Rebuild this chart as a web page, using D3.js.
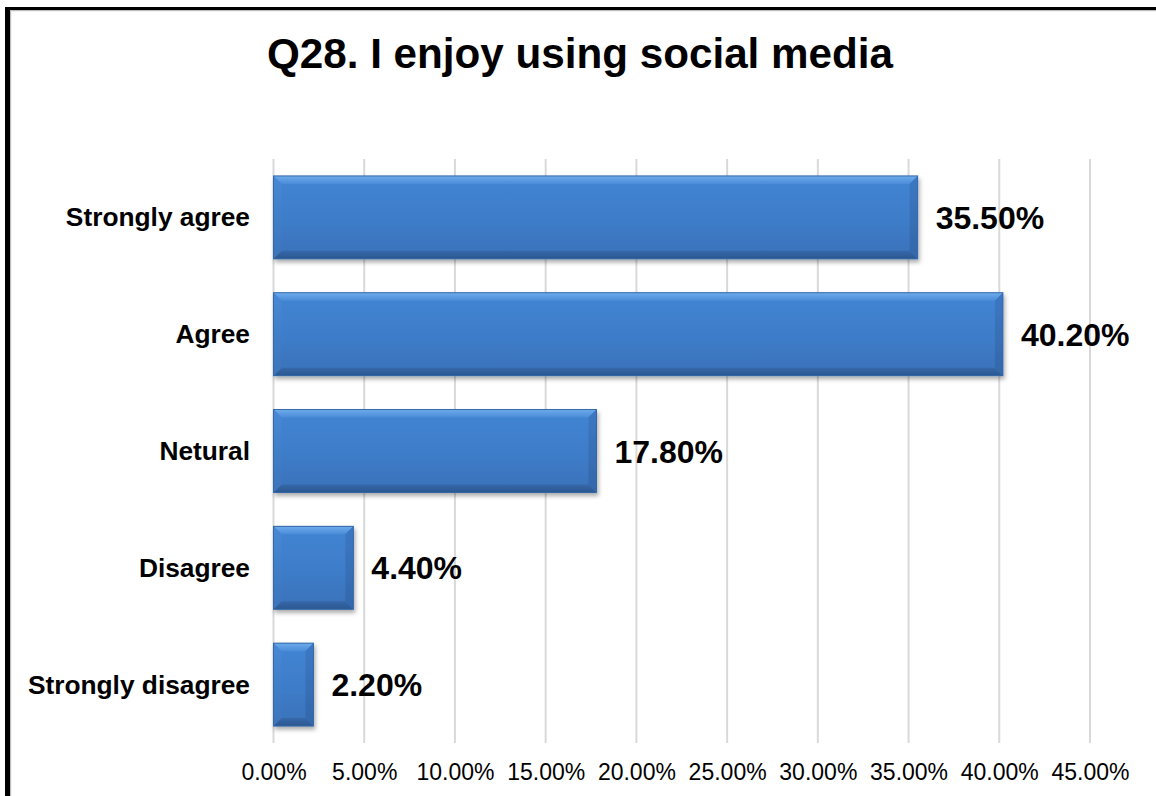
<!DOCTYPE html>
<html>
<head>
<meta charset="utf-8">
<script src="https://cdn.jsdelivr.net/npm/d3@7"></script>
<style>
  html, body { margin: 0; padding: 0; background: #fff; }
  svg { display: block; }
  text { font-family: "Liberation Sans", Arial, sans-serif; fill: #000; }
</style>
</head>
<body>
<svg id="chart" width="1156" height="796"></svg>
<script>
// Survey responses, percent of respondents
const categories = ["Strongly agree", "Agree", "Netural", "Disagree", "Strongly disagree"];
const values = [35.5, 40.2, 17.8, 4.4, 2.2];
const tickValues = [0, 5, 10, 15, 20, 25, 30, 35, 40, 45];
const title = "Q28. I enjoy using social media";

const svg = d3.select("#chart");
const W = 1156, H = 796;

// frame: heavy black border with a thin grey inner line
svg.append("rect").attr("x", 0).attr("y", 0).attr("width", W).attr("height", H).attr("fill", "#fff");
svg.append("rect").attr("x", 5).attr("y", 7).attr("width", W + 20).attr("height", 3).attr("fill", "#000");
svg.append("rect").attr("x", 5).attr("y", 7).attr("width", 5).attr("height", H + 20).attr("fill", "#000");
svg.append("rect").attr("x", 10).attr("y", 10).attr("width", W).attr("height", 1.2).attr("fill", "#bdbdbd");
svg.append("rect").attr("x", 10).attr("y", 10).attr("width", 1.2).attr("height", H).attr("fill", "#bdbdbd");

// title
svg.append("text")
  .attr("x", 580).attr("y", 68)
  .attr("text-anchor", "middle")
  .style("font-size", "42.2px").style("font-weight", "bold")
  .text(title);

// scales
const x = d3.scaleLinear().domain([0, 45]).range([273.5, 1090]);
const y = d3.scaleBand().domain(categories).range([159, 743]).paddingInner(0.29).paddingOuter(0.145);

// vertical gridlines
svg.append("g").selectAll("line").data(tickValues).join("line")
  .attr("x1", d => x(d)).attr("x2", d => x(d))
  .attr("y1", 159).attr("y2", 743)
  .attr("stroke", "#d9d9d9").attr("stroke-width", 2);

// x axis tick labels
const xAxis = d3.axisBottom(x).tickValues(tickValues).tickSize(0).tickPadding(0)
  .tickFormat(d => d3.format(".2f")(d) + "%");
const gx = svg.append("g").attr("transform", "translate(0,780)").call(xAxis);
gx.select(".domain").remove();
gx.selectAll("text")
  .attr("dy", null).attr("y", 0)
  .style("font-size", "23px").style("font-family", "'Liberation Sans', Arial, sans-serif")
  .attr("fill", "#000");

// gradients and shadow for the bevelled bars
const defs = svg.append("defs");
function vGrad(id, stops) {
  const g = defs.append("linearGradient").attr("id", id).attr("x1", 0).attr("y1", 0).attr("x2", 0).attr("y2", 1);
  stops.forEach(([o, c]) => g.append("stop").attr("offset", o).attr("stop-color", c));
}
vGrad("face", [[0, "#4285d3"], [0.5, "#3e7dca"], [1, "#3a71b9"]]);
vGrad("topEdge", [[0, "#6eaceb"], [1, "#4b8bd8"]]);
vGrad("botEdge", [[0, "#3668a9"], [1, "#2b5790"]]);
vGrad("leftEdge", [[0, "#4788d6"], [1, "#3b74bb"]]);
vGrad("rightEdge", [[0, "#3c78c3"], [1, "#3467aa"]]);
const f = defs.append("filter").attr("id", "shadow").attr("x", "-10%").attr("y", "-10%").attr("width", "130%").attr("height", "140%");
f.append("feDropShadow").attr("dx", 1.5).attr("dy", 3).attr("stdDeviation", 2.2)
  .attr("flood-color", "#000").attr("flood-opacity", 0.33);

const bars = svg.append("g").selectAll("g.bar")
  .data(categories.map((c, i) => ({ c, v: values[i] })))
  .join("g").attr("class", "bar").attr("filter", "url(#shadow)");

bars.each(function (d) {
  const g = d3.select(this);
  const x0 = x(0), x1 = x(d.v), y0 = y(d.c), y1 = y0 + y.bandwidth();
  const b = Math.min(8, (x1 - x0) / 3);
  const pts = a => a.map(p => p.join(",")).join(" ");
  g.append("rect").attr("x", x0).attr("y", y0).attr("width", x1 - x0).attr("height", y1 - y0).attr("fill", "url(#face)");
  g.append("polygon").attr("points", pts([[x0, y0], [x1, y0], [x1 - b, y0 + b], [x0 + b, y0 + b]])).attr("fill", "url(#topEdge)");
  g.append("polygon").attr("points", pts([[x0, y1], [x1, y1], [x1 - b, y1 - b], [x0 + b, y1 - b]])).attr("fill", "url(#botEdge)");
  g.append("polygon").attr("points", pts([[x0, y0], [x0 + b, y0 + b], [x0 + b, y1 - b], [x0, y1]])).attr("fill", "url(#leftEdge)");
  g.append("polygon").attr("points", pts([[x1, y0], [x1 - b, y0 + b], [x1 - b, y1 - b], [x1, y1]])).attr("fill", "url(#rightEdge)");
  g.append("rect").attr("x", x0).attr("y", y0).attr("width", x1 - x0).attr("height", y1 - y0)
    .attr("fill", "none").attr("stroke", "#3468a8").attr("stroke-width", 1);
});

// category labels
svg.append("g").selectAll("text").data(categories).join("text")
  .attr("x", 250).attr("y", d => y(d) + y.bandwidth() / 2 + 9)
  .attr("text-anchor", "end")
  .style("font-size", "26.3px").style("font-weight", "bold")
  .text(d => d);

// value labels
svg.append("g").selectAll("text").data(categories.map((c, i) => ({ c, v: values[i] }))).join("text")
  .attr("x", d => x(d.v) + 18).attr("y", d => y(d.c) + y.bandwidth() / 2 + 11.5)
  .style("font-size", "32px").style("font-weight", "bold")
  .text(d => d3.format(".2f")(d.v) + "%");
</script>
</body>
</html>
